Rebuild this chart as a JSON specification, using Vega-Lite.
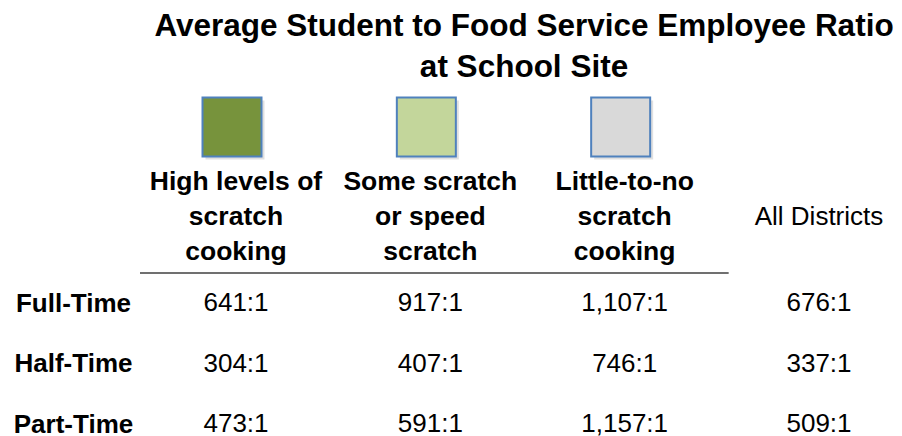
{
  "$schema": "https://vega.github.io/schema/vega-lite/v6.json",
  "width": 902,
  "height": 346,
  "autosize": {"type": "none"},
  "padding": {"top": 90, "left": 0, "right": 0, "bottom": 0},
  "background": "white",
  "config": {"view": {"stroke": null}, "font": "Liberation Sans"},
  "title": {
    "text": ["Average Student to Food Service Employee Ratio", "at School Site"],
    "font": "Liberation Sans",
    "fontSize": 31.5,
    "fontWeight": "bold",
    "color": "#000000",
    "anchor": "middle",
    "frame": "group",
    "baseline": "alphabetic",
    "lineHeight": 41,
    "dx": 73,
    "offset": -18
  },
  "datasets": {
    "swatches": [
      {"col": "High"},
      {"col": "Some"},
      {"col": "Little"}
    ],
    "headers": [
      {"col": "High", "line": "1", "text": "High levels of"},
      {"col": "High", "line": "2", "text": "scratch"},
      {"col": "High", "line": "3", "text": "cooking"},
      {"col": "Some", "line": "1", "text": "Some scratch"},
      {"col": "Some", "line": "2", "text": "or speed"},
      {"col": "Some", "line": "3", "text": "scratch"},
      {"col": "Little", "line": "1", "text": "Little-to-no"},
      {"col": "Little", "line": "2", "text": "scratch"},
      {"col": "Little", "line": "3", "text": "cooking"},
      {"col": "All", "line": "2", "text": "All Districts"}
    ],
    "rule": [{"from": "High", "to": "Little"}],
    "ratios": [
      {"row": "Full-Time", "col": "High", "ratio": "641:1"},
      {"row": "Full-Time", "col": "Some", "ratio": "917:1"},
      {"row": "Full-Time", "col": "Little", "ratio": "1,107:1"},
      {"row": "Full-Time", "col": "All", "ratio": "676:1"},
      {"row": "Half-Time", "col": "High", "ratio": "304:1"},
      {"row": "Half-Time", "col": "Some", "ratio": "407:1"},
      {"row": "Half-Time", "col": "Little", "ratio": "746:1"},
      {"row": "Half-Time", "col": "All", "ratio": "337:1"},
      {"row": "Part-Time", "col": "High", "ratio": "473:1"},
      {"row": "Part-Time", "col": "Some", "ratio": "591:1"},
      {"row": "Part-Time", "col": "Little", "ratio": "1,157:1"},
      {"row": "Part-Time", "col": "All", "ratio": "509:1"}
    ]
  },
  "resolve": {"scale": {"y": "independent", "fill": "independent"}, "axis": {"y": "independent"}},
  "layer": [
    {
      "data": {"name": "swatches"},
      "mark": {"type": "square", "size": 3481, "fill": "#000000", "opacity": 0.12, "xOffset": -1, "yOffset": 3, "strokeWidth": 0},
      "encoding": {
        "x": {"field": "col", "type": "nominal", "scale": {"type": "point", "domain": ["High", "Some", "Little", "All"], "range": [236, 819], "padding": 0}, "axis": null},
        "y": {"field": "col", "type": "nominal", "scale": {"type": "point", "range": [37, 37], "padding": 0}, "axis": null}
      }
    },
    {
      "data": {"name": "swatches"},
      "mark": {"type": "square", "size": 3481, "opacity": 1, "stroke": "#4f81bd", "strokeWidth": 2, "xOffset": -4},
      "encoding": {
        "x": {"field": "col", "type": "nominal", "scale": {"type": "point", "domain": ["High", "Some", "Little", "All"], "range": [236, 819], "padding": 0}, "axis": null},
        "y": {"field": "col", "type": "nominal", "scale": {"type": "point", "range": [37, 37], "padding": 0}, "axis": null},
        "fill": {"field": "col", "type": "nominal", "scale": {"domain": ["High", "Some", "Little"], "range": ["#77933c", "#c3d69b", "#d9d9d9"]}, "legend": null}
      }
    },
    {
      "data": {"name": "headers"},
      "transform": [{"filter": "datum.col !== 'All'"}],
      "mark": {"type": "text", "fontSize": 26.5, "fontWeight": "bold", "baseline": "middle", "align": "center", "color": "#000000"},
      "encoding": {
        "x": {"field": "col", "type": "nominal", "scale": {"type": "point", "domain": ["High", "Some", "Little", "All"], "range": [236, 819], "padding": 0}, "axis": null},
        "y": {"field": "line", "type": "nominal", "scale": {"type": "point", "domain": ["1", "2", "3"], "range": [92, 162], "padding": 0}, "axis": null},
        "text": {"field": "text"}
      }
    },
    {
      "data": {"name": "headers"},
      "transform": [{"filter": "datum.col === 'All'"}],
      "mark": {"type": "text", "fontSize": 26, "fontWeight": "normal", "baseline": "middle", "align": "center", "color": "#000000"},
      "encoding": {
        "x": {"field": "col", "type": "nominal", "scale": {"type": "point", "domain": ["High", "Some", "Little", "All"], "range": [236, 819], "padding": 0}, "axis": null},
        "y": {"field": "line", "type": "nominal", "scale": {"type": "point", "domain": ["1", "2", "3"], "range": [92, 162], "padding": 0}, "axis": null},
        "text": {"field": "text"}
      }
    },
    {
      "data": {"name": "rule"},
      "mark": {"type": "rule", "color": "#404040", "strokeWidth": 1.5, "xOffset": -96, "x2Offset": 104},
      "encoding": {
        "x": {"field": "from", "type": "nominal", "scale": {"type": "point", "domain": ["High", "Some", "Little", "All"], "range": [236, 819], "padding": 0}, "axis": null},
        "x2": {"field": "to"},
        "y": {"field": "from", "type": "nominal", "scale": {"type": "point", "range": [183, 183], "padding": 0}, "axis": null}
      }
    },
    {
      "data": {"name": "ratios"},
      "mark": {"type": "text", "fontSize": 26, "baseline": "middle", "align": "center", "color": "#000000"},
      "encoding": {
        "x": {"field": "col", "type": "nominal", "scale": {"type": "point", "domain": ["High", "Some", "Little", "All"], "range": [236, 819], "padding": 0}, "axis": null},
        "y": {
          "field": "row", "type": "nominal",
          "scale": {"type": "point", "domain": ["Full-Time", "Half-Time", "Part-Time"], "range": [213, 334], "padding": 0},
          "axis": {"orient": "left", "offset": -73, "title": null, "domain": false, "ticks": false, "tickSize": 0, "labelPadding": 0, "labelAlign": "center", "labelBaseline": "middle", "labelFont": "Liberation Sans", "labelFontSize": 26, "labelFontWeight": "bold", "labelColor": "#000000", "grid": false}
        },
        "text": {"field": "ratio"}
      }
    }
  ]
}
